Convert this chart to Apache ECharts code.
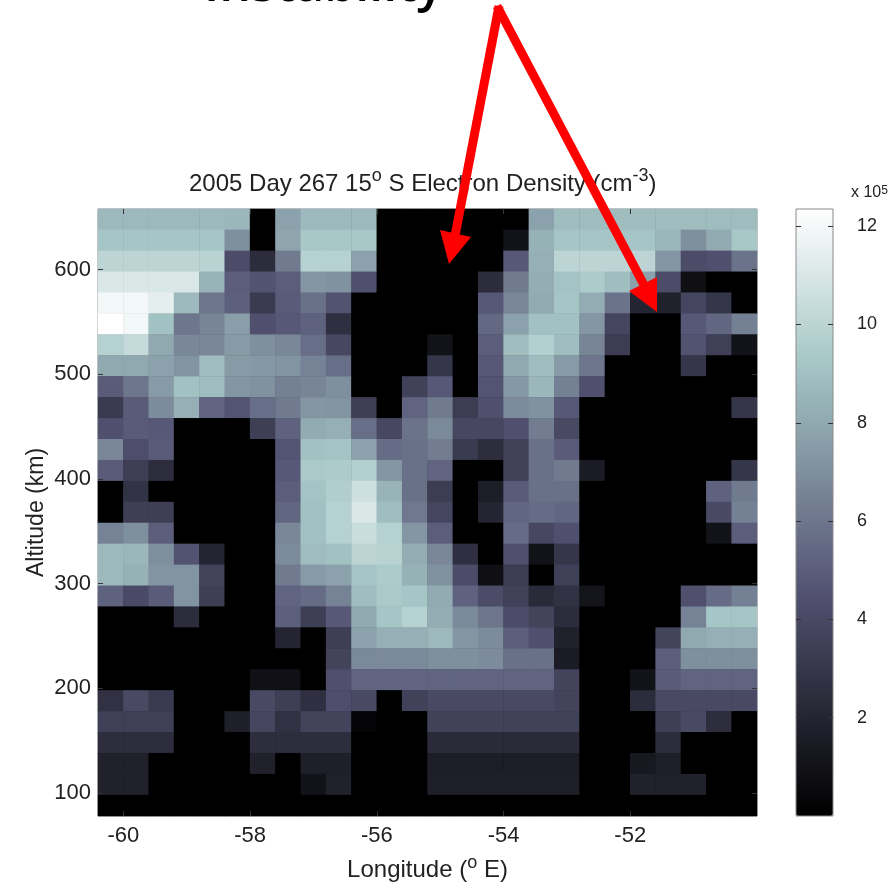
<!DOCTYPE html>
<html>
<head>
<meta charset="utf-8">
<style>html,body{margin:0;padding:0;background:#fff}#chart{width:895px;height:884px}</style>
<script src="https://cdn.jsdelivr.net/npm/echarts@6/dist/echarts.min.js"></script>
</head>
<body>
<div id="chart"></div>
<script>
const longitudes = [-60.2,-59.8,-59.4,-59.0,-58.6,-58.2,-57.8,-57.4,-57.0,-56.6,-56.2,-55.8,-55.4,-55.0,-54.6,-54.2,-53.8,-53.4,-53.0,-52.6,-52.2,-51.8,-51.4,-51.0,-50.6,-50.2];
const altitudes = [648,628,608,588,568,548,528,508,488,468,448,428,408,388,368,348,328,308,288,268,248,228,208,188,168,148,128,108,88];
const lonTicks = [-60,-58,-56,-54,-52];
const altTicks = [100,200,300,400,500,600];
const barTicks = [2,4,6,8,10,12];
// electron density (x 10^5 cm^-3), rows from top altitude to bottom
const density = [
[8.7,8.7,8.7,8.7,8.7,8.6,0,7.7,8.7,8.7,8.7,0,0,0,0,0,0,7.7,8.8,8.8,8.8,8.8,8.8,8.8,8.8,8.8],
[9.2,9.2,9.2,9.2,9.2,7,0,7.9,9.3,9.3,9.3,0,0,0,0,0,1,8.4,9.2,9.2,9.2,9.2,8.6,7,8.1,9.3],
[10,10,10,10,9.9,4.2,2.4,6.2,9.8,9.8,7.7,0,0,0,0,0,4.8,8.3,10,10,10,10,7.3,4.2,4.4,5.9],
[11,11,11,11,8.5,5,4.5,5,7.3,7.1,4.4,0,0,0,0,2.4,6.2,8.2,9.1,9.5,8.9,7.7,4.2,0.8,0,0],
[11.9,11.9,11.4,8.7,6,5.1,3.2,4.9,5.8,4.5,0,0,0,0,0,4.8,6.7,8.1,9.2,8.2,5.9,2,1.8,3.8,3,0],
[12.35,11.9,9,6,6.6,7.6,4.4,4.8,5.2,2.6,0,0,0,0,0,5.5,7.7,9,9,7.3,3.8,0,0,4.8,5.4,6.4],
[9.8,10.3,8,6.7,6.7,7.5,7,6.7,5.7,3.9,0,0,0,1,0,5,8.9,9.7,8.9,6.6,3.3,0,0,4.5,3.5,1],
[8,8,7.7,7.2,8.8,7.5,7.4,7.2,6.5,5.7,0,0,0,3,0,4.8,8,8.8,7.5,6,0,0,0,3,0,0],
[4.9,6,7.5,9,8.8,7.3,7.1,6.4,6.6,7,0,0,3.6,4.8,0,4.6,7.4,8.6,6.4,4.4,0,0,0,0,0,0],
[3.2,4.9,6.9,8.3,5.3,4.6,5.7,6.2,7.3,7.2,3.4,0,5.3,6.2,3.3,4.4,6.9,7.1,4.8,0,0,0,0,0,0,3],
[4.4,4.9,4.8,0,0,0,3.4,5.2,8.1,8.3,5.7,3.9,5.9,6.8,3.9,3.9,4.4,6.3,4,0,0,0,0,0,0,0],
[6.7,4.3,4.9,0,0,0,0,4.6,9,9.1,7.7,5.6,5.8,6.3,3.2,2.5,3.6,5.8,4.9,0,0,0,0,0,0,0],
[4.9,3.4,2.5,0,0,0,0,4.8,9.4,9.5,9.7,7.3,5.8,5.3,0,0,3.6,5.8,6.2,1.5,0,0,0,0,0,3],
[0,2.8,0,0,0,0,0,5,9.1,9.6,10.6,8.5,5.8,3.3,0,1.6,4.9,5.8,5.8,0,0,0,0,0,5.2,6.2],
[0,3.4,3.4,0,0,0,0,5.4,9,9.8,11,8.9,6.1,3.8,0,2,5.4,5.6,5.4,0,0,0,0,0,4,6.4],
[6.5,7,5,0,0,0,0,6.7,9,9.8,10.5,9.8,7.3,5,0,0,5.6,3.9,4.4,0,0,0,0,0,1,5],
[8.7,8.6,7,4.5,2,0,0,6.9,8.8,9,10,9.9,8.2,6.7,2.6,0,4.4,1,3,0,0,0,0,0,0,0],
[8.7,8.4,7.2,7.2,3.7,0,0,6.2,7.5,7.7,9.2,9.5,8.4,7.1,4.2,0.8,3.3,0,3.5,0,0,0,0,0,0,0],
[5.2,4.1,4.9,7.2,3.4,0,0,5.3,5.6,6.5,8.9,9.4,9.2,8.1,5.2,4.2,3.6,2.3,2.7,1.1,0,0,0,4.4,5.6,6.4],
[0,0,0,2.4,0,0,0,5.1,3.4,4.8,8,9.2,9.8,8.2,6.8,6,4.2,3.7,2.4,0,0,0,0,6.5,9.2,9.2],
[0,0,0,0,0,0,0,2,0,3.4,7.7,8.3,8.3,8.7,7.3,6.9,5,4.4,1.8,0,0,0,3.7,8,8.3,8.3],
[0,0,0,0,0,0,0,0,0,3.7,6.8,6.8,6.8,7,7,6.9,5.8,5.8,1.5,0,0,0,5,7,7,7],
[0,0,0,0,0,0,0.9,0.9,0,4.4,5.3,5.3,5.3,5.3,5.3,5.3,5.3,5.3,3.7,0,0,1,4.9,5.3,5.3,5.3],
[2.7,4,3.2,0,0,0,4,3.4,2.6,4.3,4,0,3.6,4,4,4,4,4,3.7,0,0,2.4,4,4,4,4],
[3.5,3.5,3.5,0,0,1.7,3.8,2.7,3.7,3.7,0.3,0,0,3.6,3.6,3.6,3.6,3.6,3.6,0,0,0,3.4,4,2.5,0],
[2.5,2.5,2.5,0,0,0,2.5,2.5,2.5,2.5,0,0,0,2.3,2.3,2.3,2.3,2.3,2.3,0,0,0,2.4,0,0,0],
[1.8,1.8,0,0,0,0,1.8,0,1.7,1.7,0,0,0,1.6,1.6,1.6,1.6,1.6,1.6,0,0,1.3,1.7,0,0,0],
[1.8,1.8,0,0,0,0,0,0,1,1.8,0,0,0,1.7,1.7,1.7,1.7,1.7,1.7,0,0,1.8,1.8,1.8,0,0],
[0,0,0,0,0,0,0,0,0,0,0,0,0,0,0,0,0,0,0,0,0,0,0,0,0,0]
];
const boneStops = ['#000000','#1c1c26','#38384d','#545474','#707a8f','#8ba1ab','#a7c7c7','#d3e3e3','#ffffff'];

const cells = [];
density.forEach((row, r) => row.forEach((v, c) => cells.push([c, altitudes.length - 1 - r, v])));

const FONT = '"Liberation Sans", Arial, sans-serif';
const TXT = '#222222';
const P = {left: 98, top: 209, width: 659, height: 607};
const B = {left: 796, top: 209, width: 37, height: 607};
const tick = {show: true, inside: true, length: 5, lineStyle: {color: '#333', width: 1}};

const chart = echarts.init(document.getElementById('chart'), null, {renderer: 'canvas'});
chart.setOption({
  animation: false,
  backgroundColor: '#ffffff',
  textStyle: {fontFamily: FONT},
  title: {
    left: 189, top: 167, padding: 0,
    text: '2005 Day 267 15{sup|o} S Electron Density (cm{sup|-3})',
    textStyle: {
      fontFamily: FONT, fontWeight: 'normal', fontSize: 24, color: TXT,
      rich: {sup: {fontSize: 18, fontFamily: FONT, color: TXT, verticalAlign: 'top', padding: [0, 0, 16, 0]}}
    }
  },
  grid: [
    Object.assign({show: true, outerBoundsMode: 'none', borderColor: '#8a8a8a', borderWidth: 1, backgroundColor: '#000'}, P),
    Object.assign({show: true, outerBoundsMode: 'none', z: 10, borderColor: '#8a8a8a', borderWidth: 1, backgroundColor: 'transparent'}, B)
  ],
  xAxis: [
    {type: 'category', gridIndex: 0, data: longitudes, show: false, position: 'bottom'},
    {type: 'value', gridIndex: 0, position: 'bottom', min: -60.4, max: -50, z: 5, splitLine: {show: false},
      axisLine: {show: false, onZero: false},
      axisTick: Object.assign({customValues: lonTicks}, tick),
      axisLabel: {customValues: lonTicks, fontSize: 22, color: TXT, margin: 9, fontFamily: FONT},
      name: 'Longitude ({sup|o} E)', nameLocation: 'middle', nameGap: 38,
      nameTextStyle: {fontSize: 24, color: TXT, fontFamily: FONT,
        rich: {sup: {fontSize: 18, color: TXT, fontFamily: FONT, verticalAlign: 'top', padding: [0, 0, 14, 0]}}}},
    {type: 'value', gridIndex: 0, position: 'top', min: -60.4, max: -50, z: 5, splitLine: {show: false},
      axisLine: {show: false, onZero: false},
      axisTick: Object.assign({customValues: lonTicks}, tick), axisLabel: {show: false}},
    {type: 'value', gridIndex: 1, min: 0, max: 1, show: false}
  ],
  yAxis: [
    {type: 'category', gridIndex: 0, data: altitudes.slice().reverse(), show: false, position: 'left'},
    {type: 'value', gridIndex: 0, position: 'left', min: 78, max: 658, z: 5, splitLine: {show: false},
      axisLine: {show: false, onZero: false},
      axisTick: Object.assign({customValues: altTicks}, tick),
      axisLabel: {customValues: altTicks, fontSize: 22, color: TXT, margin: 7, fontFamily: FONT},
      name: 'Altitude (km)', nameLocation: 'middle', nameGap: 50, nameRotate: 90, nameMoveOverlap: false,
      nameTextStyle: {fontSize: 23, color: TXT, fontFamily: FONT}},
    {type: 'value', gridIndex: 0, position: 'right', min: 78, max: 658, z: 5, splitLine: {show: false},
      axisLine: {show: false, onZero: false},
      axisTick: Object.assign({customValues: altTicks}, tick), axisLabel: {show: false}},
    {type: 'value', gridIndex: 1, position: 'right', min: 0, max: 12.35, z: 12, splitLine: {show: false},
      axisLine: {show: false, onZero: false},
      axisTick: Object.assign({customValues: barTicks}, tick),
      axisLabel: {customValues: barTicks, fontSize: 18, color: TXT, margin: 24, fontFamily: FONT}},
    {type: 'value', gridIndex: 1, position: 'left', min: 0, max: 12.35, z: 12, splitLine: {show: false},
      axisLine: {show: false, onZero: false},
      axisTick: Object.assign({customValues: barTicks}, tick), axisLabel: {show: false}}
  ],
  visualMap: {
    type: 'continuous', min: 0, max: 12.35, seriesIndex: 0, calculable: false, hoverLink: false,
    left: B.left, top: B.top, padding: 0, itemWidth: B.width, itemHeight: B.height,
    text: null, showLabel: false, inRange: {color: boneStops}
  },
  series: [{
    type: 'heatmap', xAxisIndex: 0, yAxisIndex: 0, data: cells, progressive: 0,
    itemStyle: {borderWidth: 0}, emphasis: {disabled: true}, silent: true
  }],
  graphic: [
    {type: 'text', left: 851, top: 185, z: 20, style: {
      text: 'x 10{s|5}', font: '16px ' + FONT, fill: TXT,
      rich: {s: {fontSize: 12, fill: TXT, fontFamily: FONT, verticalAlign: 'top'}}}},
    {type: 'text', x: 204, y: -38, z: 20, style: {
      text: 'Instability', font: '600 50px "Open Sans", sans-serif', fill: '#000'}},
    {type: 'polyline', z: 30, shape: {points: [[499, 6], [455, 236]]},
      style: {stroke: '#ff0000', lineWidth: 9, fill: null}},
    {type: 'polygon', z: 30, shape: {points: [[440, 230], [471, 237], [449, 264]]},
      style: {fill: '#ff0000'}},
    {type: 'polyline', z: 30, shape: {points: [[497, 6], [644, 285]]},
      style: {stroke: '#ff0000', lineWidth: 9, fill: null}},
    {type: 'polygon', z: 30, shape: {points: [[629, 291], [657, 277], [657, 312]]},
      style: {fill: '#ff0000'}}
  ]
});
</script>
</body>
</html>
